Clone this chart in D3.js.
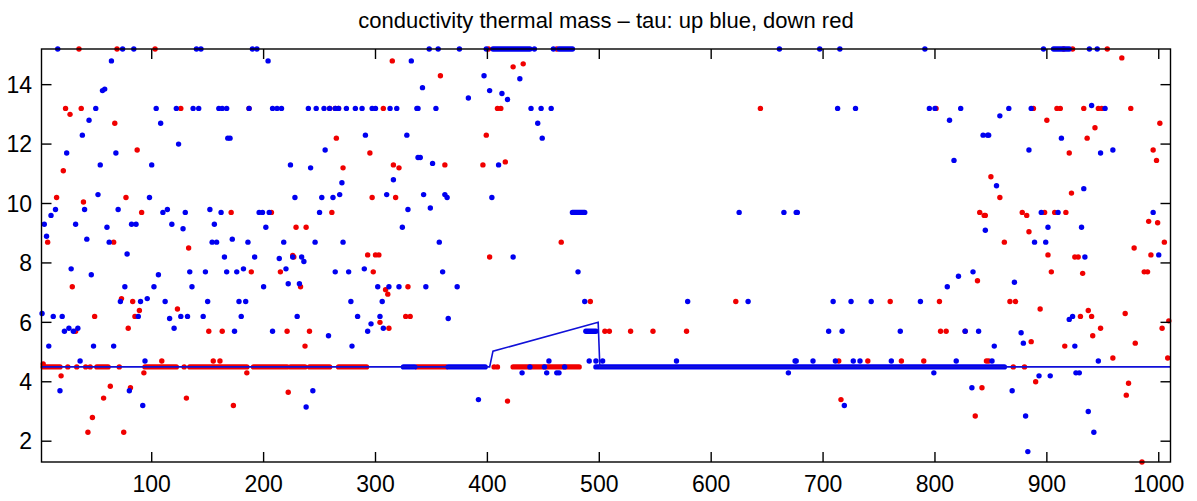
<!DOCTYPE html>
<html>
<head>
<meta charset="utf-8">
<script src="https://cdn.jsdelivr.net/npm/d3@7"></script>
<style>
  body { margin: 0; background: #fff; }
  svg text { font-family: "Liberation Sans", Arial, Helvetica, sans-serif; fill: #000; }
</style>
</head>
<body>
<div id="chart"></div>
<script>
var title = "conductivity thermal mass \u2013 tau: up blue, down red";

var xTicks = [100, 200, 300, 400, 500, 600, 700, 800, 900, 1000];
var yTicks = [2, 4, 6, 8, 10, 12, 14];

// model line (x, y breakpoints)
var lineX = [1.5, 402, 405, 499, 500.5, 1010.5];
var lineY = [4.5, 4.5, 5.03, 6.0, 4.5, 4.5];

// "up" points
var bluePts = [
  [64,14.8],[56,13.8],[58,13.85],[50,13.2],[104,13.2],[122,13.2],[137,13.2],[142,13.2],[160,13.2],[163,13.2],
  [44,12.8],[108,12.7],[38,12.3],[124,12.0],[168,12.2],[24,11.7],[68,11.7],[54,11.3],[100,11.3],[52,10.3],
  [98,10.2],[14,9.8],[10,9.6],[40,9.8],[70,9.8],[110,9.7],[114,9.8],[130,9.7],[152,9.8],[162,9.7],
  [4,9.3],[32,9.3],[60,9.2],[82,9.3],[86,9.3],[118,9.3],[128,9.15],[156,9.3],[6,8.9],[42,8.8],
  [62,8.7],[154,8.7],[158,8.7],[78,8.3],[16,15.2],[74,15.2],[84,15.2],[140,15.2],[144,15.2],
  [165,8.2],[28,7.8],[46,7.6],[76,7.2],[106,7.6],[102,7.2],[134,7.7],[148,7.7],[167,7.7],[136,7.2],
  [2,6.3],[12,6.2],[20,6.2],[72,6.7],[90,6.7],[96,6.8],[88,6.2],[112,6.7],[150,6.7],[116,6.13],
  [126,6.2],[132,6.2],[146,6.2],[22,5.7],[26,5.8],[30,5.7],[34,5.8],[120,5.8],[8,5.2],[48,5.2],
  [66,5.2],[36,4.7],[94,4.7],[18,3.7],[80,3.7],[92,3.2],
  [190,15.2],[194,15.2],[204,14.8],[332,14.8],[167,13.2],[187,13.2],[208,13.2],[212,13.2],[216,13.2],[240,13.2],
  [247,13.2],[254,13.2],[259,13.2],[264,13.2],[267,13.2],[274,13.2],[282,13.2],[288,13.2],[297,13.2],[300,13.2],
  [313,13.2],[319,13.2],[337,13.2],[170,12.2],[291,12.3],[328,12.3],[338,11.55],[255,11.8],[224,11.3],[242,11.2],
  [270,10.7],[316,10.8],[228,10.2],[252,10.2],[262,10.2],[268,10.3],[310,10.3],[196,9.7],[199,9.7],[205,9.7],
  [250,9.7],[329,9.8],[202,9.2],[324,9.2],[172,8.8],[186,8.7],[218,8.7],[246,8.7],[271,8.7],
  [192,8.2],[214,8.15],[226,8.2],[234,8.2],[236,8.05],[176,7.7],[182,7.8],[220,7.8],[264,7.7],[276,7.7],
  [290,7.8],[200,7.2],[222,7.3],[232,7.3],[302,7.2],[312,7.2],[321,7.2],[178,6.7],[184,6.7],[278,6.7],
  [306,6.7],[180,6.2],[230,6.2],[284,6.2],[304,6.2],[296,5.95],[307,5.8],[174,5.7],[208,5.7],[258,5.55],
  [293,5.7],[279,5.2],[244,3.7],[238,3.15],
  [348,15.2],[356,15.2],[375,15.2],[399,15.2],[442,15.2],[459,15.2],
  [397,14.3],[429,14.2],[342,13.9],[383,13.55],[402,13.8],[413,13.7],[418,13.5],[338,13.2],[354,13.2],[439,13.2],
  [448,13.2],[457,13.2],[445,12.7],[449,12.2],[340,11.55],[351,11.35],[410,11.3],[343,10.3],[362,10.3],[364,10.2],
  [404,10.2],[349,9.85],[357,8.7],
  [423,8.2],[360,7.7],[481,7.7],[345,7.2],[373,7.2],[365,6.13],[487,6.7],[455,4.7],[491,4.7],[497,4.7],
  [503,4.7],[438,4.5],[451,4.5],[469,4.5],[431,4.3],[453,4.3],[462,4.3],[464,4.3],[392,3.4],
  [579,6.7],[633,6.7],[569,4.7],[675,4.7],[669,4.3],[661,15.2],[625,9.7],[665,9.7],[676,9.7],
  [697,15.2],[715,15.2],[791,15.2],[713,13.2],[729,13.2],[795,13.2],[800,13.2],[823,13.2],[813,12.8],[843,12.3],
  [847,12.3],[817,11.45],[677,9.7],[845,9.1],
  [834,7.7],[821,7.55],[811,7.2],[709,6.7],[725,6.7],[743,6.7],[787,6.7],[705,5.7],[717,5.7],[769,5.7],
  [827,5.7],[839,5.7],[676,4.7],[691,4.7],[711,4.7],[727,4.7],[733,4.7],[761,4.7],[819,4.7],[799,4.3],
  [719,3.2],[833,3.8],
  [897,15.2],[938,15.2],[945,15.2],[866,13.2],[886,13.2],[940,13.3],[952,13.2],[858,12.95],[848,12.3],[913,12.2],
  [884,11.8],[948,11.7],[959,11.8],[855,10.6],[933,10.5],[895,9.7],[910,9.7],[995,9.7],[901,9.2],[931,9.2],
  [889,8.7],[899,8.7],
  [934,8.2],[1000,8.27],[871,7.35],[920,6.1],[923,6.2],[877,5.65],[879,5.3],[853,5.2],[925,5.2],[851,4.7],
  [946,4.7],[893,4.2],[903,4.2],[926,4.3],[929,4.3],[869,3.7],[937,3.0],[881,2.85],[942,2.3],[883,1.65]
];

// "down" points
var redPts = [
  [35,15.2],[69,15.2],[103,15.2],[23,13.2],[27,13.0],[37,13.2],[126,13.2],[67,12.7],[87,11.8],[21,11.1],
  [15,10.2],[39,10.05],[77,10.2],[91,9.7],[7,8.7],[66,8.7],[133,8.5],
  [29,7.2],[49,6.2],[73,6.8],[83,6.7],[89,6.4],[85,6.2],[123,6.45],[32,5.7],[79,5.8],[151,5.7],
  [163,5.7],[3,4.6],[109,4.7],[155,4.7],[161,4.7],[25,4.5],[33,4.5],[41,4.5],[45,4.5],[71,4.5],
  [129,4.5],[19,4.2],[93,4.3],[63,3.85],[57,3.45],[81,3.8],[131,3.45],[47,2.8],[43,2.3],[75,2.3],
  [315,14.8],[187,13.2],[259,13.2],[264,13.2],[267,13.2],[307,13.2],[265,12.2],[295,11.7],[271,11.2],[316,11.3],
  [321,11.2],[297,10.2],[318,10.2],[171,9.7],[207,9.7],[261,9.7],[229,9.2],[238,9.2],[226,8.25],
  [227,8.2],[293,8.27],[300,8.27],[303,8.27],[189,7.7],[215,7.7],[298,7.7],[233,7.2],[309,7.1],[311,6.95],
  [329,7.2],[327,6.2],[331,6.2],[304,6.0],[312,5.8],[221,5.7],[241,5.7],[237,5.2],[185,4.3],[222,3.65],[173,3.2],
  [401,15.2],[462,15.2],[423,14.6],[432,14.7],[358,14.3],[409,13.2],[412,13.2],[399,12.3],[362,11.3],[396,11.3],
  [416,11.4],[466,8.7],[402,8.2],[492,6.7],[505,5.7],[406,4.5],[409,4.5],[418,3.35],
  [622,6.7],[509,5.7],[528,5.7],[548,5.7],[578,5.7],[644,13.2],[801,13.2],[840,9.7],[844,9.6],
  [838,7.4],[760,6.7],[804,6.7],[805,5.7],[810,5.7],[827,5.7],[714,4.7],[740,4.7],[770,4.7],[790,4.7],
  [846,4.7],[716,3.4],[842,3.8],[836,2.85],
  [915,15.2],[923,15.2],[954,15.2],[967,14.9],[888,13.2],[909,13.2],[912,13.2],[933,13.2],[946,13.2],[949,13.2],
  [975,13.2],[900,12.8],[1001,12.7],[943,12.55],[936,12.2],[920,11.7],[995,11.8],[998,11.45],[850,10.9],[858,10.2],
  [922,10.35],[845,9.6],[878,9.7],[882,9.6],[898,9.7],[907,9.7],[917,9.7],[991,9.4],[999,9.35],[884,9.05],
  [862,8.7],[1005,8.7],[978,8.5],
  [901,8.27],[925,8.2],[928,8.2],[993,8.27],[904,7.7],[932,7.65],[987,7.7],[990,7.7],[867,6.7],[872,6.7],
  [894,6.45],[930,6.2],[937,6.4],[940,6.2],[970,6.3],[1009,6.05],[1003,5.8],[948,5.8],[941,5.55],[886,5.35],
  [979,5.3],[916,5.2],[848,4.7],[959,4.8],[1008,4.8],[870,4.5],[880,4.5],[890,4.0],[973,3.95],[971,3.55],[985,1.3]
];

// stretches where the dots sit so close they merge: [x from, x to, y]
var blueRuns = [[405,438,15.2],[464,476,15.2],[906,920,15.2],[476,487,9.7],[488,497,5.7],
                [325,335,4.5],[365,398,4.5],[497,862,4.5]];
var redRuns  = [[3,18,4.5],[51,61,4.5],[94,122,4.5],[134,185,4.5],[191,221,4.5],[224,237,4.5],
                [241,259,4.5],[267,292,4.5],[337,363,4.5],[423,482,4.5]];

var W = 1197, H = 501,
    mLeft = 41.5, mRight = 1170.5, mTop = 49, mBottom = 462,
    r = 2.7, tickLen = 10,
    blue = "#0000f0", red = "#f00000";

var x = d3.scaleLinear().domain([1.5, 1010.5]).range([mLeft, mRight]);
var y = d3.scaleLinear().domain([1.3, 15.2]).range([mBottom, mTop]);

var svg = d3.select("#chart").append("svg")
    .attr("width", W).attr("height", H);

svg.append("text")
    .attr("x", (mLeft + mRight) / 2).attr("y", 28)
    .attr("text-anchor", "middle")
    .style("font-size", "22px")
    .text(title);

function drawSeries(pts, runs, color) {
    var g = svg.append("g");
    g.selectAll("line").data(runs).enter().append("line")
        .attr("x1", d => x(d[0])).attr("x2", d => x(d[1]))
        .attr("y1", d => y(d[2])).attr("y2", d => y(d[2]))
        .attr("stroke", color).attr("stroke-width", 2 * r)
        .attr("stroke-linecap", "round");
    g.selectAll("circle").data(pts).enter().append("circle")
        .attr("cx", d => x(d[0])).attr("cy", d => y(d[1]))
        .attr("r", r).attr("fill", color);
}

drawSeries(redPts, redRuns, red);
drawSeries(bluePts, blueRuns, blue);

var line = d3.line().x(d => x(d[0])).y(d => y(d[1]));
svg.append("path")
    .datum(lineX.map((v, i) => [v, lineY[i]]))
    .attr("d", line)
    .attr("fill", "none").attr("stroke", "#1010d8").attr("stroke-width", 1.6);

// box with inward ticks on all sides
var ax = svg.append("g").attr("stroke", "#000").attr("stroke-width", 1.4);
ax.append("rect")
    .attr("x", mLeft).attr("y", mTop)
    .attr("width", mRight - mLeft).attr("height", mBottom - mTop)
    .attr("fill", "none");

xTicks.forEach(function(t) {
    ax.append("line").attr("x1", x(t)).attr("x2", x(t)).attr("y1", mBottom).attr("y2", mBottom - tickLen);
    ax.append("line").attr("x1", x(t)).attr("x2", x(t)).attr("y1", mTop).attr("y2", mTop + tickLen);
});
yTicks.forEach(function(t) {
    ax.append("line").attr("x1", mLeft).attr("x2", mLeft + tickLen).attr("y1", y(t)).attr("y2", y(t));
    ax.append("line").attr("x1", mRight).attr("x2", mRight - tickLen).attr("y1", y(t)).attr("y2", y(t));
});

svg.append("g").selectAll("text").data(xTicks).enter().append("text")
    .attr("x", d => x(d)).attr("y", 492)
    .attr("text-anchor", "middle")
    .style("font-size", "23px")
    .text(d => d);

svg.append("g").selectAll("text").data(yTicks).enter().append("text")
    .attr("x", 32).attr("y", d => y(d))
    .attr("dy", "0.36em")
    .attr("text-anchor", "end")
    .style("font-size", "23px")
    .text(d => d);
</script>
</body>
</html>
